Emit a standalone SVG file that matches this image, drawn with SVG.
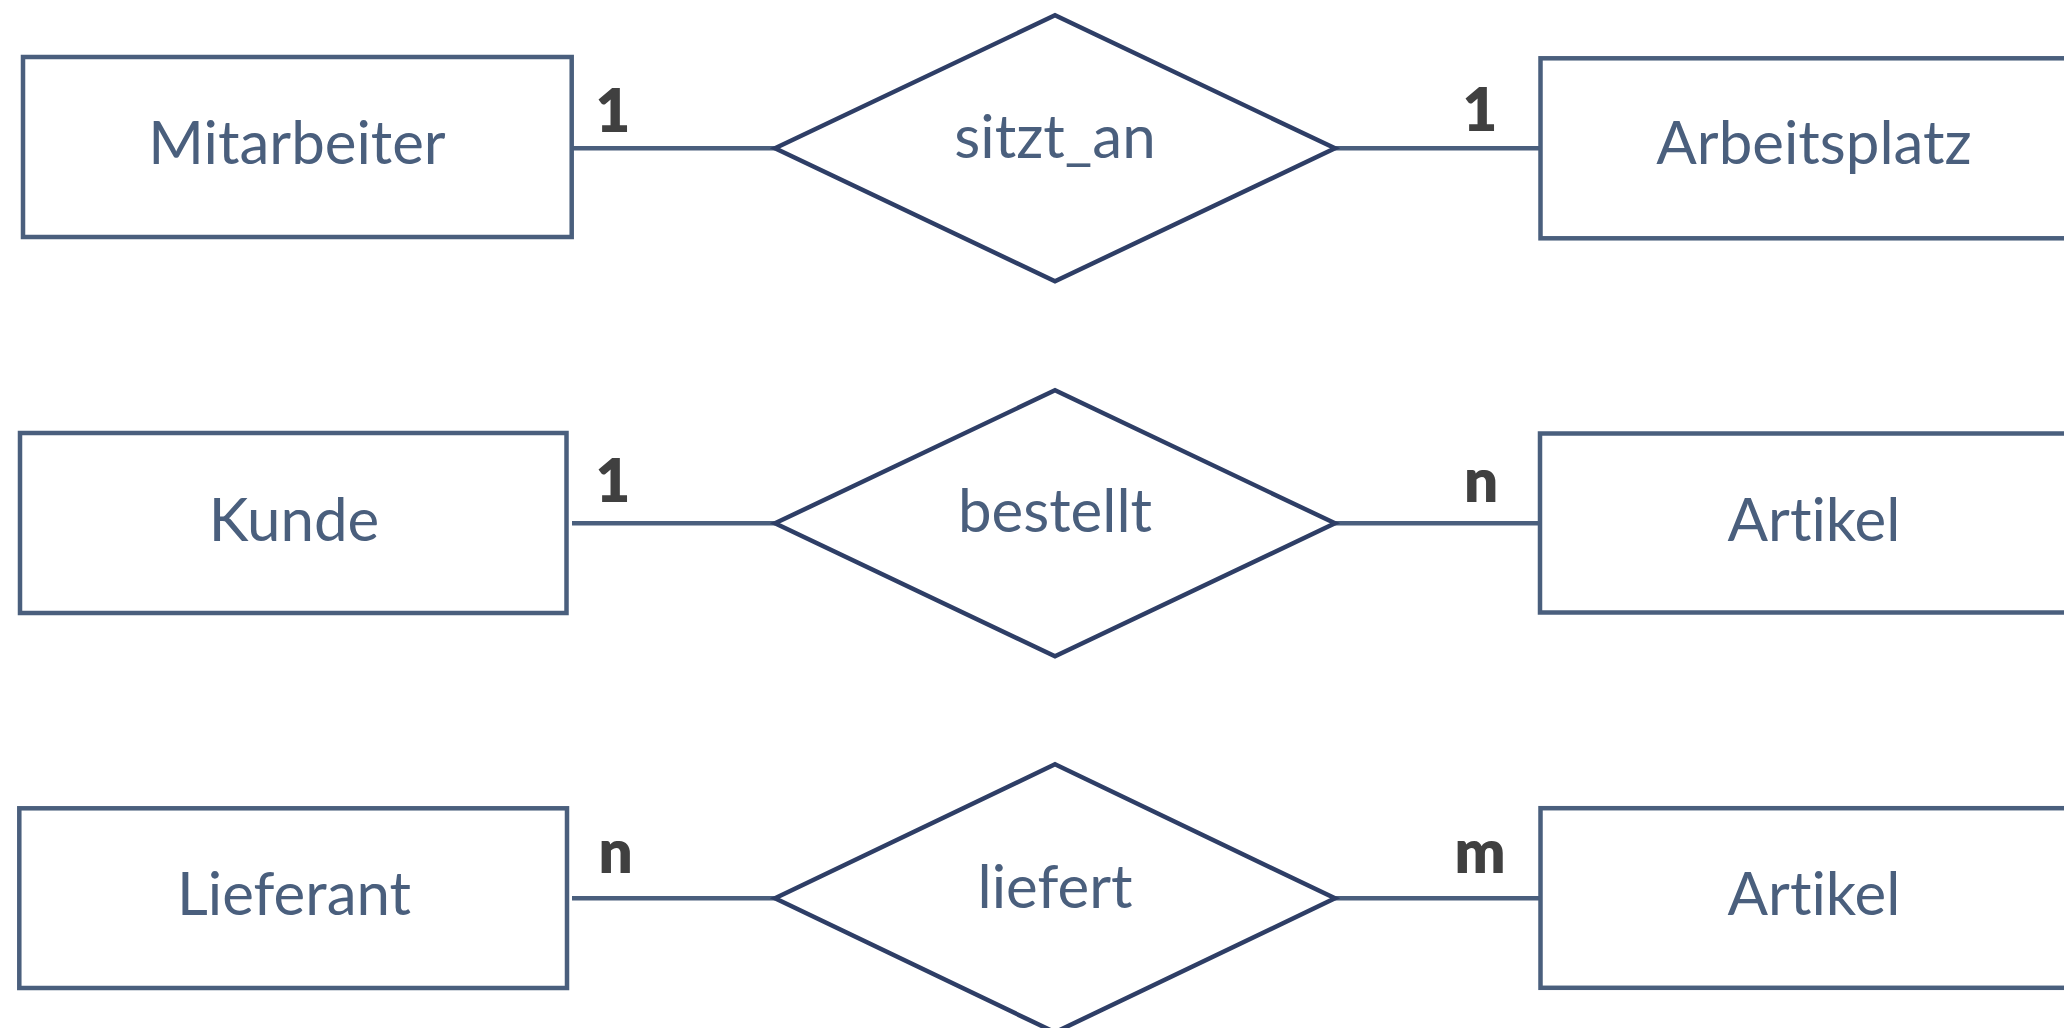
<svg xmlns="http://www.w3.org/2000/svg" width="2064" height="1028" viewBox="0 0 2064 1028">
  <style>
    .entity rect { fill: #ffffff; stroke: #4a5f7d; stroke-width: 4.5; }
    .relation polygon { fill: #ffffff; stroke: #2e3e66; stroke-width: 4.5; stroke-linejoin: miter; }
    text { font-variant-ligatures: none; font-feature-settings: "liga" 0, "clig" 0; }
    .label { font-family: Lato, "Open Sans", "Liberation Sans", sans-serif; font-size: 60px; fill: #4a5f7d; text-anchor: middle; }
    .card { font-family: Lato, "Open Sans", "Liberation Sans", sans-serif; font-weight: 800; font-size: 60px; fill: #404040; text-anchor: middle; }
    #connectors line { stroke: #4a5f7d; stroke-width: 4.5; }
  </style>
  <rect width="2064" height="1028" fill="#ffffff"/>

  <!-- connectors between entities and relationships -->
  <g id="connectors">
    <line x1="572" y1="148.3" x2="775" y2="148.3"/>
    <line x1="1335" y1="148.3" x2="1540" y2="148.3"/>
    <line x1="572" y1="523.3" x2="775" y2="523.3"/>
    <line x1="1335" y1="523.3" x2="1540" y2="523.3"/>
    <line x1="572" y1="898.3" x2="775" y2="898.3"/>
    <line x1="1335" y1="898.3" x2="1540" y2="898.3"/>
  </g>

  <!-- row 1 -->
  <g id="mitarbeiter" class="entity">
    <rect x="23" y="57" width="548.7" height="180"/>
    <text class="label" x="297" y="164">Mitarbeiter</text>
  </g>
  <g id="sitzt_an" class="relation">
    <polygon points="775,148.3 1055,15.3 1335,148.3 1055,281.3"/>
    <text class="label" x="1055" y="158">sitzt_an</text>
  </g>
  <g id="arbeitsplatz" class="entity">
    <rect x="1540.5" y="58.3" width="548" height="180"/>
    <text class="label" x="1814" y="164">Arbeitsplatz</text>
  </g>

  <!-- row 2 -->
  <g id="kunde" class="entity">
    <rect x="20" y="433" width="546.5" height="180"/>
    <text class="label" x="294" y="540.5">Kunde</text>
  </g>
  <g id="bestellt" class="relation">
    <polygon points="775,523.3 1055,390.3 1335,523.3 1055,656.3"/>
    <text class="label" x="1055" y="532.3">bestellt</text>
  </g>
  <g id="artikel_1" class="entity">
    <rect x="1540" y="433.5" width="548" height="179"/>
    <text class="label" x="1814" y="540.5">Artikel</text>
  </g>

  <!-- row 3 -->
  <g id="lieferant" class="entity">
    <rect x="19.3" y="808.3" width="547.7" height="179.7"/>
    <text class="label" x="294" y="915">Lieferant</text>
  </g>
  <g id="liefert" class="relation">
    <polygon points="775,898.3 1055,764.3 1335,898.3 1055,1032.3"/>
    <text class="label" x="1055" y="908.3">liefert</text>
  </g>
  <g id="artikel_2" class="entity">
    <rect x="1540.5" y="808.2" width="548" height="179.6"/>
    <text class="label" x="1814" y="915">Artikel</text>
  </g>

  <!-- cardinalities -->
  <g id="cardinalities">
    <text class="card" x="613" y="131.7">1</text>
    <text class="card" x="1480" y="131">1</text>
    <text class="card" x="613" y="501.7">1</text>
    <text class="card" x="1481" y="502.3">n</text>
    <text class="card" x="615.5" y="872.7">n</text>
    <text class="card" x="1480" y="872.7">m</text>
  </g>
</svg>
